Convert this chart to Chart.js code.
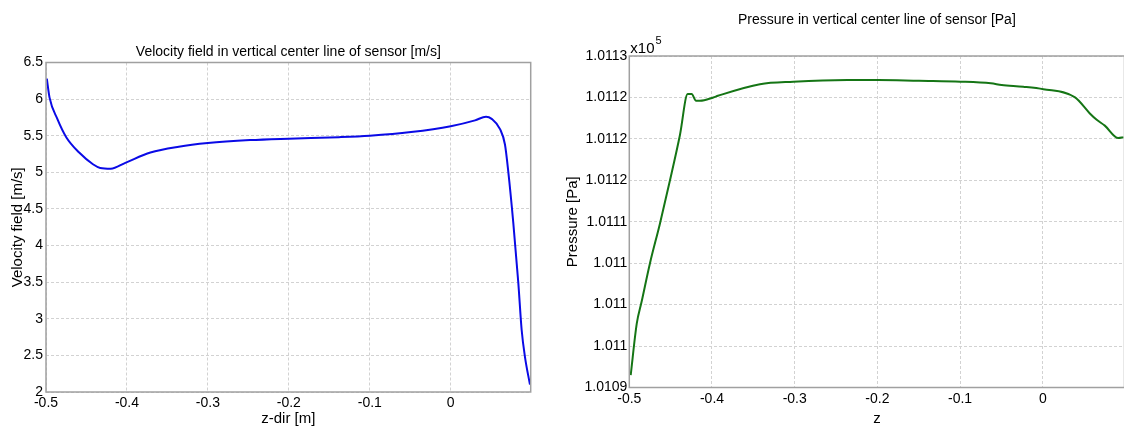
<!DOCTYPE html>
<html>
<head>
<meta charset="utf-8">
<script src="https://cdn.jsdelivr.net/npm/chart.js@4.4.1/dist/chart.umd.min.js"></script>
<style>
    html, body { margin: 0; padding: 0; background: #fff; overflow: hidden; width: 1124px; height: 430px; }
    #velChart { position: absolute; left: 0; top: 0; }
    #presChart { position: absolute; left: 560px; top: 0; }
</style>
</head>
<body>
<canvas id="velChart" width="560" height="430"></canvas>
<canvas id="presChart" width="580" height="430"></canvas>
<script>
// z positions shared by both plots
const zTicks = [-0.5, -0.4, -0.3, -0.2, -0.1, 0];
const zTickLabels = ["-0.5", "-0.4", "-0.3", "-0.2", "-0.1", "0"];

// velocity along the centre line
const velZ = [-0.499, -0.4956, -0.486, -0.475, -0.459, -0.442, -0.433, -0.420, -0.402, -0.371, -0.336,
    -0.300, -0.248, -0.200, -0.138, -0.100, -0.049, 0.0, 0.030, 0.0436, 0.0506, 0.0609,
    0.067, 0.0712, 0.0773, 0.0835, 0.0876, 0.0917, 0.0979];
const velV = [6.28, 6.02, 5.73, 5.48, 5.27, 5.11, 5.06, 5.05, 5.13, 5.27, 5.35,
    5.40, 5.44, 5.46, 5.48, 5.50, 5.55, 5.63, 5.71, 5.76, 5.73, 5.59,
    5.38, 5.0, 4.31, 3.49, 2.85, 2.48, 2.10];
const velTicks = [2, 2.5, 3, 3.5, 4, 4.5, 5, 5.5, 6, 6.5];
const velTickLabels = ["2", "2.5", "3", "3.5", "4", "4.5", "5", "5.5", "6", "6.5"];

// pressure along the centre line [Pa]
const presZ = [-0.4983, -0.491, -0.485, -0.475, -0.4629, -0.4508, -0.4387, -0.4294, -0.4246, -0.4193,
    -0.4145, -0.3984, -0.3928, -0.342, -0.3016, -0.2364, -0.1992, -0.1497, -0.0996, -0.0628,
    -0.0497, -0.0237, 0.0006, 0.039, 0.0566, 0.0652, 0.075, 0.0913, 0.0975];
const presP = [101091.5, 101097.7, 101100.4, 101105.0, 101109.8, 101115.0, 101120.5, 101125.4, 101125.4, 101124.6,
    101124.6, 101125.0, 101125.2, 101126.6, 101126.9, 101127.1, 101127.1, 101127.0, 101126.9, 101126.7,
    101126.5, 101126.3, 101126.0, 101125.0, 101123.1, 101122.3, 101121.6, 101120.1, 101120.2];
const presTicks = [101090, 101095, 101100, 101105, 101110, 101115, 101120, 101125, 101130];
const presTickLabels = ["1.0109", "1.011", "1.011", "1.011", "1.0111", "1.0112", "1.0112", "1.0112", "1.0113"];

const FONT = "'Liberation Sans', Arial, sans-serif";
Chart.defaults.font.family = FONT;
Chart.defaults.color = "#000";

// frame round the plot area + the x10^n multiplier
const boxPlugin = {
    id: "box",
    afterDraw(chart) {
        const a = chart.chartArea, ctx = chart.ctx;
        ctx.save();
        ctx.strokeStyle = "#a0a0a0";
        ctx.lineWidth = 1.5;
        ctx.strokeRect(a.left, a.top, a.right - a.left, a.bottom - a.top);
        const opts = chart.options.plugins.box;
        if (opts && opts.exponent) {
            ctx.fillStyle = "#000";
            ctx.textBaseline = "alphabetic";
            ctx.font = "15px " + FONT;
            ctx.fillText("x10", a.left + 1, a.top - 3);
            const w = ctx.measureText("x10").width;
            ctx.font = "11px " + FONT;
            ctx.fillText(opts.exponent, a.left + 1 + w + 1, a.top - 12);
        }
        ctx.restore();
    }
};

function makeChart(id, cfg) {
    return new Chart(document.getElementById(id), {
        type: "line",
        data: {
            datasets: [{
                data: cfg.xs.map((x, i) => ({ x: x, y: cfg.ys[i] })),
                borderColor: cfg.color,
                borderWidth: 2,
                pointRadius: 0,
                cubicInterpolationMode: "monotone",
                fill: false
            }]
        },
        options: {
            responsive: false,
            animation: false,
            events: [],
            layout: { padding: { left: 0, right: cfg.padRight, top: 0, bottom: 0 } },
            plugins: {
                legend: { display: false },
                tooltip: { enabled: false },
                title: {
                    display: true,
                    fullSize: false,
                    text: cfg.title,
                    color: "#000",
                    font: { size: 14, weight: "normal" },
                    padding: cfg.titlePad
                },
                box: { exponent: cfg.exponent }
            },
            scales: {
                x: {
                    type: "linear",
                    min: -0.5,
                    max: 0.0988,
                    afterBuildTicks: s => { s.ticks = zTicks.map(v => ({ value: v })); },
                    afterFit: s => { s.height = cfg.xAxisH; },
                    ticks: {
                        padding: 3,
                        font: { size: 14 },
                        callback: (v, i) => zTickLabels[i]
                    },
                    grid: { color: "#d2d2d2", drawTicks: false, lineWidth: 1 },
                    border: { display: false, dash: [3, 2] },
                    title: { display: true, text: cfg.xTitle, font: { size: 15 }, padding: { top: 0, bottom: 2 } }
                },
                y: {
                    min: cfg.yTicks[0],
                    max: cfg.yTicks[cfg.yTicks.length - 1],
                    afterBuildTicks: s => { s.ticks = cfg.yTicks.map(v => ({ value: v })); },
                    afterFit: s => { s.width = cfg.yAxisW; },
                    ticks: {
                        padding: cfg.yTickPad,
                        font: { size: 14 },
                        callback: (v, i) => cfg.yLabels[i]
                    },
                    grid: { color: "#d2d2d2", drawTicks: false, lineWidth: 1 },
                    border: { display: false, dash: [3, 2] },
                    title: { display: true, text: cfg.yTitle, font: { size: 15 }, padding: { top: cfg.yTitlePad, bottom: 0 } }
                }
            }
        },
        plugins: [boxPlugin]
    });
}

makeChart("velChart", {
    xs: velZ, ys: velV, color: "#0a0ae6",
    title: "Velocity field in vertical center line of sensor [m/s]",
    titlePad: { top: 43.6, bottom: 2.1 },
    xTitle: "z-dir [m]", yTitle: "Velocity field [m/s]",
    yTicks: velTicks, yLabels: velTickLabels, yTickPad: 3,
    yAxisW: 46, xAxisH: 38, yTitlePad: 9, padRight: 29.3
});

makeChart("presChart", {
    xs: presZ, ys: presP, color: "#157515",
    title: "Pressure in vertical center line of sensor [Pa]",
    titlePad: { top: 11.6, bottom: 27.6 },
    xTitle: "z", yTitle: "Pressure [Pa]",
    yTicks: presTicks, yLabels: presTickLabels, yTickPad: 2,
    yAxisW: 69.3, xAxisH: 42.5, yTitlePad: 4, padRight: 15.5, exponent: "5"
});
</script>
</body>
</html>
